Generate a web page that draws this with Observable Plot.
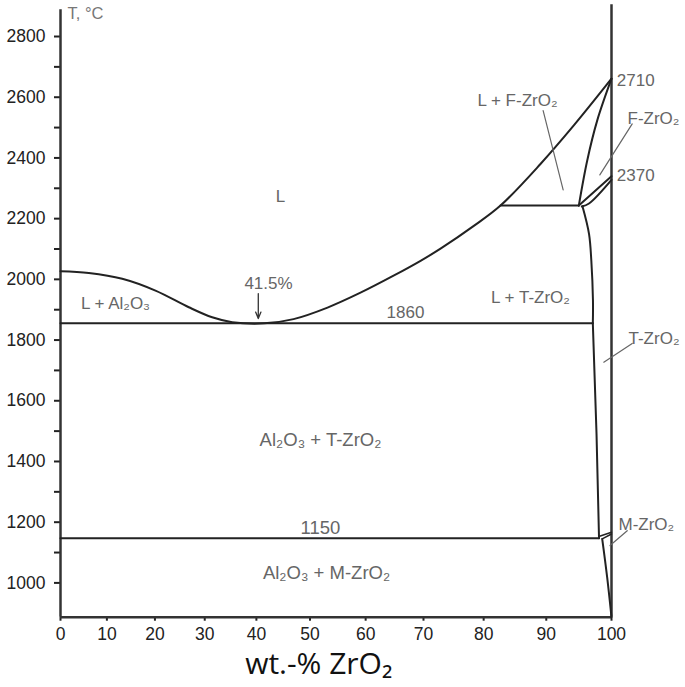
<!DOCTYPE html>
<html><head><meta charset="utf-8">
<script src="https://cdn.jsdelivr.net/npm/d3@7"></script>
<script src="https://cdn.jsdelivr.net/npm/@observablehq/plot@0.6"></script>
<style>body{margin:0;background:#fff}</style>
</head><body><div id="chart"></div>
<script>
// wt.-% ZrO2 values; the axis is drawn linear in mole fraction
const xTicks = [0,10,20,30,40,50,60,70,80,90,100];
const yTicks = d3.range(1000, 2801, 100);

// phase boundaries [wt% ZrO2, T °C]
const liquidus = [[0,2027],[6.15,2021],[13.23,2002],[20.11,1963],[26.84,1908],[31.46,1875],[35.36,1859],[41.5,1855],
  [46.97,1869],[53.19,1907],[59.09,1956],[64.87,2012],[69.5,2061],[72.87,2101],[78.39,2176],[82.73,2243],[89.09,2380],[94.27,2507],[100,2661]];
const eutectic = [[0,1855],[97.15,1855]];
const eutectoid = [[0,1147],[98.12,1147]];
const peritectic = [[82.73,2243],[95.04,2243]];
const fSolidus = [[95.04,2243],[96.32,2391],[97.84,2523],[100,2661]];
const lensUpper = [[95.04,2243],[100,2340]];
const lensLower = [[95.5,2240],[96.6,2250],[100,2328]];
const tUpper = [[95.6,2241],[96.6,2150],[96.95,2062],[97.2,1930],[97.18,1855]];
const tLower = [[97.18,1855],[97.74,1491],[98.12,1147]];
const mLensUpper = [[98.09,1153],[100,1167]];
const mLensLower = [[98.6,1145],[100,1161]];
const mBoundary = [[98.6,1145],[99.35,1018],[100,887]];

// leader lines
const leaders = [
  [[89.51,2556],[92.63,2295]],
  [[103.09,2512],[98.24,2344]],
  [[103.09,1789],[98.84,1727]],
  [[102.35,1172],[99.78,1123]]
];

// labels
const regionLabels = [
  {t:"L", w:44.55, T:2273},
  {t:"L + Al₂O₃", w:11.81, T:1920},
  {t:"41.5%", w:42.29, T:1986},
  {t:"1860", w:66.93, T:1890},
  {t:"L + T-ZrO₂", w:87.52, T:1940},
  {t:"L + F-ZrO₂", w:85.45, T:2589}
];
const lowerLabels = [
  {t:"Al₂O₃ + T-ZrO₂", w:51.92, T:1469},
  {t:"1150", w:51.92, T:1182},
  {t:"Al₂O₃ + M-ZrO₂", w:53.01, T:1034}
];
const sideLabels = [
  {t:"2710", w:100.8, T:2655},
  {t:"2370", w:100.8, T:2342},
  {t:"F-ZrO₂", w:102.39, T:2530},
  {t:"T-ZrO₂", w:102.54, T:1805},
  {t:"M-ZrO₂", w:101.05, T:1192}
];
const eutecticArrow = [{w:40.36, t1:1953, t2:1871}];

const MA = 101.96, MZ = 123.22;
const mol = w => (w/MZ)/((w/MZ)+((100-w)/MA));
const wt = m => 100*m/(MA/MZ + m*(1-MA/MZ));
const X = d => mol(d[0]), Y = d => d[1];

const lineOpts = {x: X, y: Y, stroke: "#222", strokeWidth: 2};

const plot = Plot.plot({
  width: 685, height: 687,
  marginLeft: 60, marginRight: 74, marginTop: 9.3, marginBottom: 70.3,
  style: {fontFamily: "Liberation Sans, Arial, sans-serif", fontSize: "17px", background: "#fff"},
  x: {type: "linear", domain: [0,1], axis: null},
  y: {domain: [887, 2888], axis: null},
  marks: [
    Plot.axisY({ticks: yTicks, tickFormat: d => d % 200 === 0 ? String(d) : "", tickSize: 6, tickPadding: 9, strokeWidth: 2, color: "#222", fontSize: 17.5}),
    Plot.axisX({ticks: xTicks.map(mol), tickFormat: m => String(Math.round(wt(m))), tickSize: 4, tickPadding: 6, strokeWidth: 2, color: "#222", fontSize: 17.5}),
    Plot.ruleX([0], {y1: 887, y2: 2888, stroke: "#333", strokeWidth: 2.5}),
    Plot.ruleY([887], {x1: 0, x2: 1, stroke: "#333", strokeWidth: 2.5}),
    Plot.ruleX([1], {y1: 887, y2: 2905, stroke: "#333", strokeWidth: 2.5}),
    Plot.line(liquidus, {...lineOpts, curve: "catmull-rom"}),
    Plot.line(eutectic, lineOpts),
    Plot.line(eutectoid, lineOpts),
    Plot.line(peritectic, lineOpts),
    Plot.line(fSolidus, {...lineOpts, curve: "catmull-rom"}),
    Plot.line(lensUpper, lineOpts),
    Plot.line(lensLower, {...lineOpts, curve: "catmull-rom"}),
    Plot.line(tUpper, {...lineOpts, curve: "catmull-rom"}),
    Plot.line(tLower, lineOpts),
    Plot.line(mLensUpper, {...lineOpts, strokeWidth: 1.5}),
    Plot.line(mLensLower, {...lineOpts, strokeWidth: 1.5}),
    Plot.line(mBoundary, {...lineOpts, curve: "catmull-rom"}),
    ...leaders.map(l => Plot.line(l, {x: X, y: Y, stroke: "#666", strokeWidth: 1.2})),
    Plot.arrow(eutecticArrow, {x1: d => mol(d.w), x2: d => mol(d.w), y1: "t1", y2: "t2", stroke: "#333", strokeWidth: 1.3, headLength: 8, headAngle: 45}),
    Plot.text(regionLabels, {x: d => mol(d.w), y: "T", text: "t", fill: "#666", fontSize: 17}),
    Plot.text(lowerLabels, {x: d => mol(d.w), y: "T", text: "t", fill: "#666", fontSize: 18.5}),
    Plot.text(sideLabels, {x: d => mol(d.w), y: "T", text: "t", fill: "#666", fontSize: 17, textAnchor: "start"}),
    Plot.text(["T, °C"], {x: 0, y: 2874, dx: 7, text: d => d, fill: "#777", fontSize: 16.5, textAnchor: "start"}),
    Plot.text(["wt.-% ZrO₂"], {x: mol(51.6), y: 887, dy: 47, text: d => d, fill: "#111", fontSize: 30, fontFamily: "Open Sans, sans-serif"})
  ]
});
document.getElementById("chart").appendChild(plot);
</script>
</body></html>
